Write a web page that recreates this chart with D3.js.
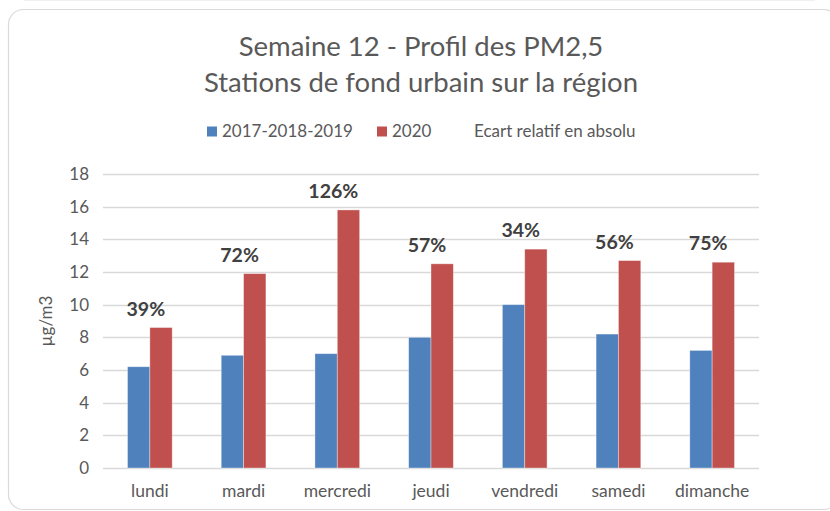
<!DOCTYPE html>
<html>
<head>
<meta charset="utf-8">
<script src="https://cdn.jsdelivr.net/npm/d3@7"></script>
<style>
  html, body { margin: 0; padding: 0; background: #fff; }
  svg { display: block; font-family: Lato, 'Open Sans', sans-serif; }
</style>
</head>
<body>
<svg id="chart" width="830" height="511"></svg>
<script>
const DAYS = ['lundi', 'mardi', 'mercredi', 'jeudi', 'vendredi', 'samedi', 'dimanche'];
const SERIES = ['2017-2018-2019', '2020'];
const REF_VALUES = [6.2, 6.9, 7.0, 8.0, 10.0, 8.2, 7.2];
const VALUES_2020 = [8.6, 11.9, 15.8, 12.5, 13.4, 12.7, 12.6];
const ECART = ['39%', '72%', '126%', '57%', '34%', '56%', '75%'];
const Y_TICKS = [0, 2, 4, 6, 8, 10, 12, 14, 16, 18];
const TITLE = ['Semaine 12 - Profil des PM2,5', 'Stations de fond urbain sur la région'];
const LEGEND_EXTRA = 'Ecart relatif en absolu';
const Y_LABEL = 'µg/m3';

const WIDTH = 830;
const HEIGHT = 511;
const COLORS = ['#4f81bd', '#c0504d'];
const TEXT_COLOR = '#595959';
const GRID_COLOR = '#d9d9d9';
const plot = { left: 103, right: 759, top: 174, bottom: 468 };

const svg = d3.select('#chart');

// Chart frame
svg.append('line')
  .attr('x1', 24).attr('x2', 815).attr('y1', 0.5).attr('y2', 0.5)
  .attr('stroke', '#f0f0f0');
svg.append('rect')
  .attr('x', 8.5).attr('y', 9.5)
  .attr('width', 830).attr('height', 500)
  .attr('rx', 15)
  .attr('fill', '#fff')
  .attr('stroke', '#d9d9d9')
  .attr('stroke-width', 1.2);

// Scales
const x0 = d3.scaleBand()
  .domain(DAYS)
  .range([plot.left, plot.right]);

const groupWidth = x0.bandwidth() * 0.477;
const x1 = d3.scaleBand()
  .domain(SERIES)
  .range([0, groupWidth]);

const y = d3.scaleLinear()
  .domain([0, 18])
  .range([plot.bottom, plot.top]);

// Gridlines
svg.append('g')
  .selectAll('line')
  .data(Y_TICKS)
  .join('line')
  .attr('x1', plot.left)
  .attr('x2', plot.right)
  .attr('y1', d => Math.round(y(d)) + 0.5)
  .attr('y2', d => Math.round(y(d)) + 0.5)
  .attr('stroke', GRID_COLOR)
  .attr('stroke-width', 1.3);

// Y axis labels
const yAxis = svg.append('g')
  .attr('transform', `translate(${plot.left - 12},0)`)
  .call(d3.axisLeft(y).tickValues(Y_TICKS).tickSize(0).tickPadding(2));
yAxis.select('.domain').remove();
yAxis.selectAll('text')
  .attr('fill', TEXT_COLOR)
  .style('font-size', '17px')
  .style('font-family', 'Lato, sans-serif');

// X axis labels
const xAxis = svg.append('g')
  .attr('transform', `translate(0,${plot.bottom + 17})`)
  .call(d3.axisBottom(x0).tickSize(0).tickPadding(0));
xAxis.select('.domain').remove();
xAxis.selectAll('text')
  .attr('fill', TEXT_COLOR)
  .attr('dy', '0.71em')
  .style('font-size', '17.5px')
  .style('font-family', 'Lato, sans-serif');

// Bars
const rows = DAYS.map((day, i) => ({
  day,
  values: [REF_VALUES[i], VALUES_2020[i]],
  label: ECART[i]
}));

const groups = svg.append('g')
  .selectAll('g')
  .data(rows)
  .join('g')
  .attr('transform', d => `translate(${x0(d.day) + (x0.bandwidth() - groupWidth) / 2},0)`);

groups.selectAll('rect')
  .data(d => d.values.map((v, k) => ({ key: SERIES[k], value: v, k })))
  .join('rect')
  .attr('x', d => x1(d.key))
  .attr('y', d => y(d.value))
  .attr('width', x1.bandwidth())
  .attr('height', d => y(0) - y(d.value))
  .attr('fill', d => COLORS[d.k])
  .attr('stroke', 'rgba(255,255,255,0.45)')
  .attr('stroke-width', 0.8);

// Percent labels
groups.append('text')
  .attr('x', groupWidth / 2 - 4)
  .attr('y', d => y(d.values[1]) - 12)
  .attr('text-anchor', 'middle')
  .attr('fill', '#404040')
  .style('font-size', '19.5px')
  .style('font-weight', 'bold')
  .text(d => d.label);

// Y label
svg.append('text')
  .attr('transform', `translate(52,${(plot.top + plot.bottom) / 2}) rotate(-90)`)
  .attr('text-anchor', 'middle')
  .attr('fill', TEXT_COLOR)
  .style('font-size', '17px')
  .text(Y_LABEL);

// Title
svg.append('g')
  .selectAll('text')
  .data(TITLE)
  .join('text')
  .attr('x', 421)
  .attr('y', (d, i) => 56 + i * 36)
  .attr('text-anchor', 'middle')
  .attr('fill', TEXT_COLOR)
  .style('font-size', '27.5px')
  .text(d => d);

// Legend
const legend = svg.append('g').attr('transform', 'translate(0,137)');
const legendItems = [
  { label: SERIES[0], color: COLORS[0], x: 207 },
  { label: SERIES[1], color: COLORS[1], x: 377 },
  { label: LEGEND_EXTRA, color: null, x: 474 }
];
legendItems.forEach(item => {
  if (item.color) {
    legend.append('rect')
      .attr('x', item.x).attr('y', -10.5)
      .attr('width', 10).attr('height', 10)
      .attr('fill', item.color);
  }
  legend.append('text')
    .attr('x', item.color ? item.x + 15 : item.x)
    .attr('y', 0)
    .attr('fill', TEXT_COLOR)
    .style('font-size', '17px')
    .text(item.label);
});
</script>
</body>
</html>
